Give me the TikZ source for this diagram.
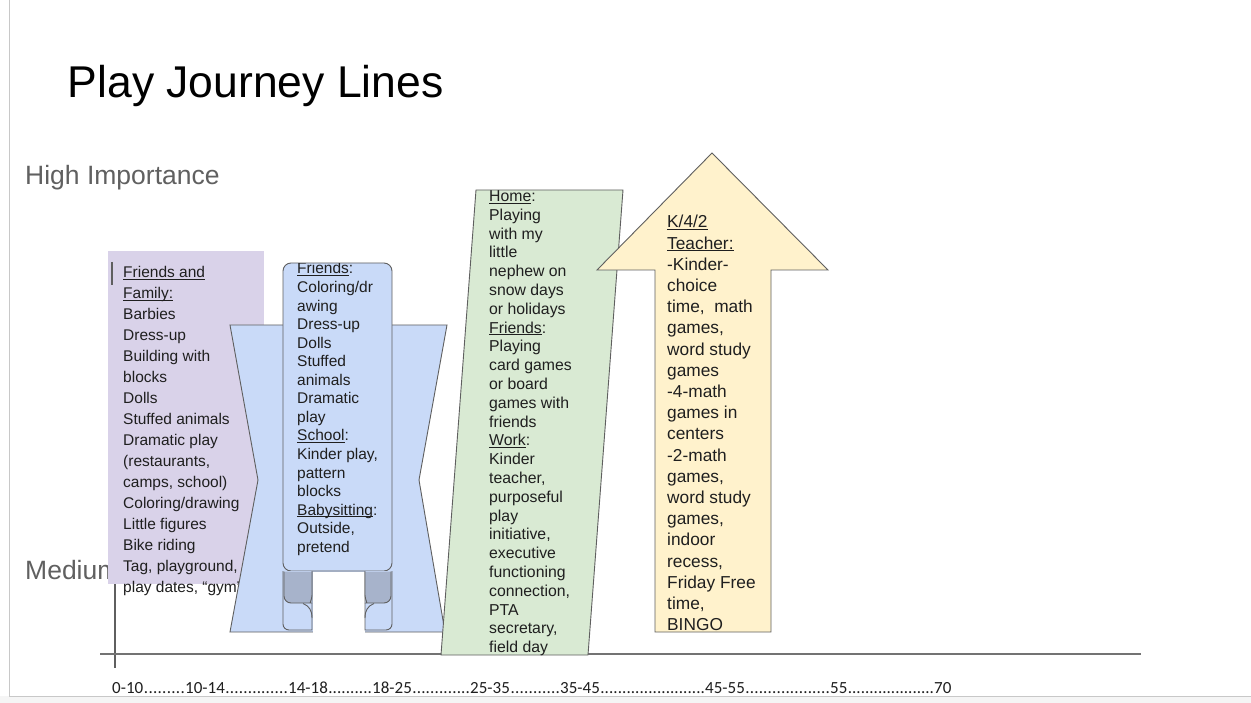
\documentclass[tikz,border=0pt]{standalone}
\usepackage{fontspec}
\usetikzlibrary{calc}
\setmainfont{Liberation Sans}
\newfontfamily\axisfont{Carlito}
\definecolor{purplefill}{HTML}{D9D2E9}
\definecolor{bluefill}{HTML}{C9DAF8}
\definecolor{rollfill}{HTML}{A7B3CB}
\definecolor{greenfill}{HTML}{D9EAD3}
\definecolor{yellowfill}{HTML}{FFF2CC}
\definecolor{edgegray}{HTML}{5F5F5F}
\definecolor{textdark}{HTML}{1F1F1F}
\definecolor{labelgray}{HTML}{606060}
\definecolor{framegray}{HTML}{C8C8C8}
% underline sitting just under the baseline
\newcommand\uln[1]{\leavevmode\setbox0=\hbox{#1}\rlap{\rule[-2pt]{\wd0}{0.8pt}}\box0}
% a text block: width, font size, line spacing, lines
\newcommand\textblock[4]{\parbox[t]{#1}{\fontsize{#2}{#3}\selectfont\raggedright #4}}
\begin{document}
\begin{tikzpicture}[x=1pt,y=-1pt,
  panel/.style={draw=edgegray,line width=0.9pt,line join=miter},
  body/.style={anchor=base west,inner sep=0pt,text=textdark},
  age/.style={anchor=base west,inner sep=0pt,text=textdark,font=\axisfont\fontsize{17}{20}\selectfont},
  axisline/.style={draw=#1,line width=1.6pt},
]
\useasboundingbox (0,0) rectangle (1251,703);
\fill[white] (0,0) rectangle (1251,703);
% page frame
\fill[black!4] (0,696) rectangle (1251,703);
\draw[framegray,line width=1pt] (9.5,0) -- (9.5,696) -- (1251,696);

% headings
\node[anchor=base west,inner sep=0pt,font=\fontsize{44.5}{50}\selectfont] (title) at (67.5,98) {Play Journey Lines};
\node[anchor=base west,inner sep=0pt,text=labelgray,font=\fontsize{26.5}{30}\selectfont] (high) at (25,185) {High Importance};
\node[anchor=base west,inner sep=0pt,text=labelgray,font=\fontsize{26.5}{30}\selectfont] (medium) at (25,579) {Medium};

% vertical axis
\coordinate (ytop) at (115,262);
\coordinate (ybot) at (115,668);
\draw[edgegray,line width=1.2pt] (ytop) -- (ybot);

% ages 0-10: friends and family
\fill[purplefill] (108,251) rectangle (264,584);
\draw[edgegray,line width=1.2pt] (112,262) -- (112,285);
\node[body] (family) at (123,278) {\textblock{140pt}{15.5}{20.95}{%
\uln{Friends and}\\ \uln{Family:}\\ Barbies\\ Dress-up\\ Building with\\ blocks\\ Dolls\\
Stuffed animals\\ Dramatic play\\ (restaurants,\\ camps, school)\\ Coloring/drawing\\
Little figures\\ Bike riding\\ Tag, playground,\\ play dates, “gym”}};

% horizontal axis
\coordinate (xl) at (100,654);
\coordinate (xr) at (1141,654);
\draw[axisline=black!55] (xl) -- (xr);

% ages 10-14: notched band with a scroll
\draw[panel,fill=bluefill] (230,325) -- (447,325) -- (419,480) -- (445,632) -- (230,632) -- (258,480) -- cycle;
\draw[panel,fill=bluefill,rounded corners=8pt] (283,571) -- (283,263) -- (392,263) -- (392,571) -- cycle;
\begin{scope}
  \clip (283.5,263.5) rectangle (391.5,570.5);
  \node[body] (teen) at (297,274) {\textblock{100pt}{15.5}{18.55}{%
  \uln{Friends}:\\ Coloring/dr\\ awing\\ Dress-up\\ Dolls\\ Stuffed\\ animals\\ Dramatic\\ play\\
  \uln{School}:\\ Kinder play,\\ pattern\\ blocks\\ \uln{Babysitting}:\\ Outside,\\ pretend}};
\end{scope}
% rolled ends of the scroll
\fill[white] (312.5,571.5) rectangle (364.5,634);
\draw[panel,fill=bluefill] (283,571) [rounded corners=6pt]-- (283,630) [sharp corners]-- (312,630) -- (312,571);
\draw[panel,fill=rollfill] (284,571.5) [rounded corners=7pt]-- (284,603) -- (304,603) [sharp corners]
  .. controls (309,603) and (312,600) .. (312,595) -- (312,571.5);
\draw[panel] (312,618) .. controls (312,610) and (309,606) .. (303,603.5);
\draw[panel,fill=bluefill] (392,571) [rounded corners=6pt]-- (392,630) [sharp corners]-- (365,630) -- (365,571);
\draw[panel,fill=rollfill] (391,571.5) [rounded corners=7pt]-- (391,603) -- (373,603) [sharp corners]
  .. controls (368,603) and (365,600) .. (365,595) -- (365,571.5);
\draw[panel] (365,618) .. controls (365,610) and (368,606) .. (374,603.5);

% ages 18-35: slanted panel
\draw[panel,fill=greenfill] (476,190) -- (623,190) -- (588,655) -- (441,655) -- cycle;
\node[body] (adult) at (489,201.5) {\textblock{100pt}{15.8}{18.8}{%
\uln{Home}:\\ Playing\\ with my\\ little\\ nephew on\\ snow days\\ or holidays\\ \uln{Friends}:\\
Playing\\ card games\\ or board\\ games with\\ friends\\ \uln{Work}:\\ Kinder\\ teacher,\\ purposeful\\
play\\ initiative,\\ executive\\ functioning\\ connection,\\ PTA\\ secretary,\\ field day}};

% ages 35-45: upward arrow
\draw[panel,fill=yellowfill] (712,153) -- (828,270) -- (771,270) -- (771,632) -- (655,632) -- (655,270) -- (597,270) -- cycle;
\begin{scope}
  \clip (655.5,150) rectangle (770.5,631.5);
  \node[body] (teacher) at (667,228) {\textblock{110pt}{17.3}{21.2}{%
  \uln{K/4/2}\\ \uln{Teacher:}\\ -Kinder-\\ choice\\ time,\ \ math\\ games,\\ word study\\ games\\
  -4-math\\ games in\\ centers\\ -2-math\\ games,\\ word study\\ games,\\ indoor\\ recess,\\
  Friday Free\\ time,\\ BINGO}};
\end{scope}

% age scale: labels joined by dotted leaders
\node[age] (a1) at (112,693) {0-10};
\node[age] (a2) at (185,693) {10-14};
\node[age] (a3) at (288,693) {14-18};
\node[age] (a4) at (372,693) {18-25};
\node[age] (a5) at (470,693) {25-35};
\node[age] (a6) at (560,693) {35-45};
\node[age] (a7) at (705,693) {45-55};
\node[age] (a8) at (830,693) {55};
\node[age] (a9) at (934,693) {70};
\foreach \a/\b in {a1/a2,a2/a3,a3/a4,a4/a5,a5/a6,a6/a7,a7/a8,a8/a9}{
  \path let \p1=(\a.base east), \p2=(\b.base west) in
    node[age] at (\p1) {\hbox to \dimexpr\x2-\x1\relax{\xleaders\hbox{.}\hfill}};
}
\end{tikzpicture}
\end{document}
